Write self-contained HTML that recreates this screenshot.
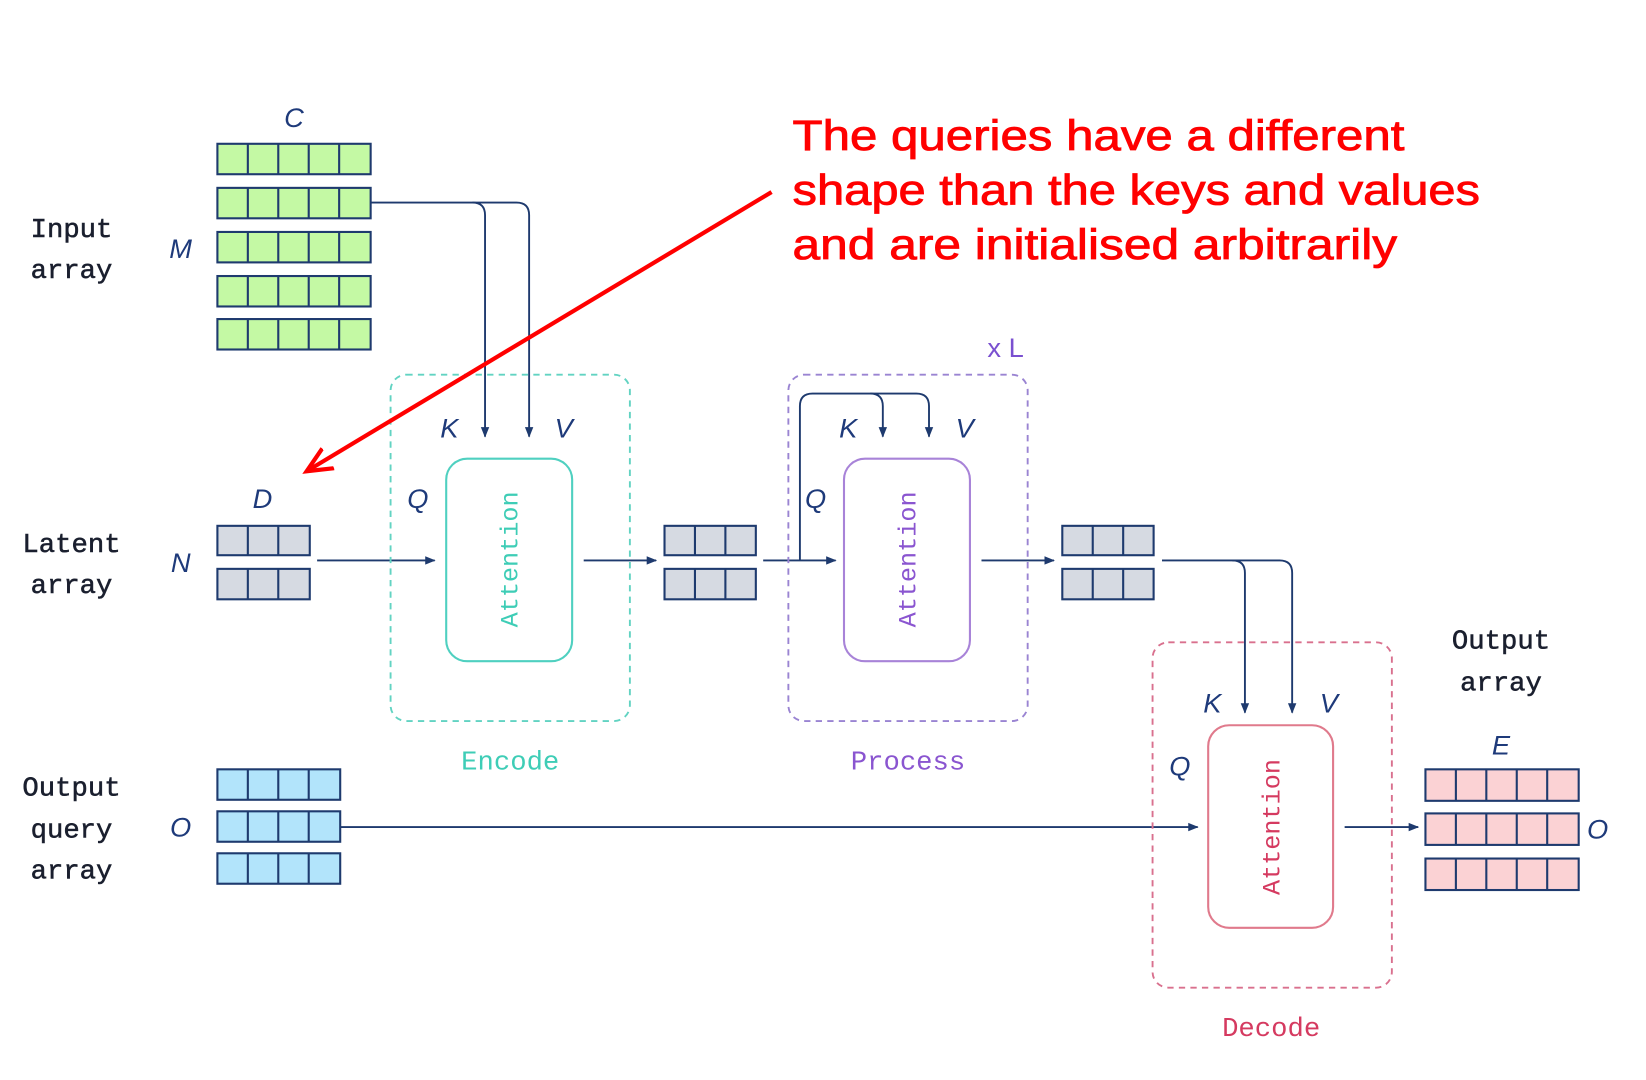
<!DOCTYPE html>
<html><head><meta charset="utf-8"><style>
html,body{margin:0;padding:0;background:#fff;}
svg{display:block;}
.m{font-family:"Liberation Mono",monospace;}
.i{font-family:"Liberation Sans",sans-serif;font-style:italic;fill:#1e3a7a;font-size:26px;}
</style></head><body>
<svg width="1646" height="1080" viewBox="0 0 1568 1029" xmlns="http://www.w3.org/2000/svg">
<defs>
<marker id="a" markerWidth="10" markerHeight="10" refX="9" refY="5" orient="auto" markerUnits="userSpaceOnUse"><path d="M0,1 L10,5 L0,9 Z" fill="#1e3a6e"/></marker>
<marker id="r" markerWidth="30" markerHeight="30" refX="24" refY="15" orient="auto" markerUnits="userSpaceOnUse"><path d="M0,4 L24,15 L0,26" fill="none" stroke="#f00" stroke-width="4"/></marker>
</defs>
<rect width="1568" height="1029" fill="#fff"/>
<g stroke="#1e3a6e" stroke-width="2">
<g fill="#c4f9a4">
<rect x="207" y="137" width="146" height="29"/><rect x="207" y="179" width="146" height="29"/><rect x="207" y="221" width="146" height="29"/><rect x="207" y="263" width="146" height="29"/><rect x="207" y="304" width="146" height="29"/>
</g>
<path d="M236 137v29M265 137v29M294 137v29M323 137v29
M236 179v29M265 179v29M294 179v29M323 179v29
M236 221v29M265 221v29M294 221v29M323 221v29
M236 263v29M265 263v29M294 263v29M323 263v29
M236 304v29M265 304v29M294 304v29M323 304v29" fill="none"/>
<g fill="#d6dae2">
<rect x="207" y="501" width="88" height="28"/><rect x="207" y="542" width="88" height="29"/>
<rect x="633" y="501" width="87" height="28"/><rect x="633" y="542" width="87" height="29"/>
<rect x="1012" y="501" width="87" height="28"/><rect x="1012" y="542" width="87" height="29"/>
</g>
<path d="M236 501v28M265 501v28M236 542v29M265 542v29
M662 501v28M691 501v28M662 542v29M691 542v29
M1041 501v28M1070 501v28M1041 542v29M1070 542v29" fill="none"/>
<g fill="#b2e4fb">
<rect x="207" y="733" width="117" height="29"/><rect x="207" y="773" width="117" height="29"/><rect x="207" y="813" width="117" height="29"/>
</g>
<path d="M236 733v29M265 733v29M294 733v29M236 773v29M265 773v29M294 773v29M236 813v29M265 813v29M294 813v29" fill="none"/>
<g fill="#fbd2d4">
<rect x="1358" y="733" width="146" height="30"/><rect x="1358" y="775" width="146" height="30"/><rect x="1358" y="818" width="146" height="30"/>
</g>
<path d="M1387 733v30M1416 733v30M1445 733v30M1474 733v30
M1387 775v30M1416 775v30M1445 775v30M1474 775v30
M1387 818v30M1416 818v30M1445 818v30M1474 818v30" fill="none"/>
</g>
<g stroke="#1e3a6e" stroke-width="1.8" fill="none">
<path d="M353 193H450Q462 193 462 205V416" marker-end="url(#a)"/>
<path d="M450 193H492Q504 193 504 205V416" marker-end="url(#a)"/>
<path d="M302 534H414" marker-end="url(#a)"/>
<path d="M556 534H625" marker-end="url(#a)"/>
<path d="M727 534H796" marker-end="url(#a)"/>
<path d="M762 534V387Q762 375 774 375H829Q841 375 841 387V416" marker-end="url(#a)"/>
<path d="M829 375H873Q885 375 885 387V416" marker-end="url(#a)"/>
<path d="M935 534H1004" marker-end="url(#a)"/>
<path d="M1107 534H1174Q1186 534 1186 546V679" marker-end="url(#a)"/>
<path d="M1174 534H1219Q1231 534 1231 546V679" marker-end="url(#a)"/>
<path d="M324 788H1141" marker-end="url(#a)"/>
<path d="M1281 788H1351" marker-end="url(#a)"/>
</g>
<rect x="372" y="357" width="228" height="330" rx="15" fill="none" stroke="#62d3c2" stroke-width="1.8" stroke-dasharray="6,5"/>
<rect x="751" y="357" width="228" height="330" rx="15" fill="none" stroke="#9a84d2" stroke-width="1.8" stroke-dasharray="6,5"/>
<rect x="1098" y="612" width="228" height="329" rx="15" fill="none" stroke="#d9708e" stroke-width="1.8" stroke-dasharray="6,5"/>
<rect x="425" y="437" width="120" height="193" rx="20" fill="none" stroke="#4fd0c0" stroke-width="2"/>
<rect x="804" y="437" width="120" height="193" rx="20" fill="none" stroke="#a883d8" stroke-width="2"/>
<rect x="1151" y="691" width="119" height="193" rx="20" fill="none" stroke="#e07a8c" stroke-width="2"/>
<g class="m" font-size="24" text-anchor="middle">
<text transform="translate(493,533) rotate(-90)" fill="#3ecdb6">Attention</text>
<text transform="translate(872,533) rotate(-90)" fill="#8a55d0">Attention</text>
<text transform="translate(1219,788) rotate(-90)" fill="#d53a60">Attention</text>
</g>
<g class="m" font-size="26" text-anchor="middle">
<text x="486" y="733" fill="#3ecdb6">Encode</text>
<text x="865" y="733" fill="#8a55d0">Process</text>
<text x="1211" y="987" fill="#d53a60">Decode</text>
</g>
<text x="958" y="340" font-family="Liberation Sans,sans-serif" font-size="26" fill="#7a50d0" text-anchor="middle">x L</text>
<g class="m" font-size="26" fill="#1a1f2e" stroke="#1a1f2e" stroke-width="0.5" text-anchor="middle">
<text x="68" y="226">Input</text><text x="68" y="265">array</text>
<text x="68" y="526">Latent</text><text x="68" y="565">array</text>
<text x="68" y="758">Output</text><text x="68" y="798">query</text><text x="68" y="837">array</text>
<text x="1430" y="618">Output</text><text x="1430" y="658">array</text>
</g>
<g class="i" text-anchor="middle">
<text x="280" y="121">C</text><text x="172" y="246">M</text>
<text x="250" y="484">D</text><text x="172" y="545">N</text>
<text x="172" y="797">O</text>
<text x="1430" y="719">E</text><text x="1522" y="799">O</text>
<text x="428" y="417">K</text><text x="537" y="417">V</text><text x="398" y="484">Q</text>
<text x="808" y="417">K</text><text x="919" y="417">V</text><text x="777" y="484">Q</text>
<text x="1155" y="679">K</text><text x="1266" y="679">V</text><text x="1124" y="739">Q</text>
</g>
<line x1="735" y1="183" x2="292" y2="449" stroke="#f00" stroke-width="4" marker-end="url(#r)"/>
<g font-family="Liberation Sans,sans-serif" font-size="41" fill="#f00" stroke="#f00" stroke-width="0.8">
<text x="755" y="143" textLength="583" lengthAdjust="spacingAndGlyphs">The queries have a different</text>
<text x="755" y="195" textLength="655" lengthAdjust="spacingAndGlyphs">shape than the keys and values</text>
<text x="755" y="247" textLength="576" lengthAdjust="spacingAndGlyphs">and are initialised arbitrarily</text>
</g>
</svg>
</body></html>
